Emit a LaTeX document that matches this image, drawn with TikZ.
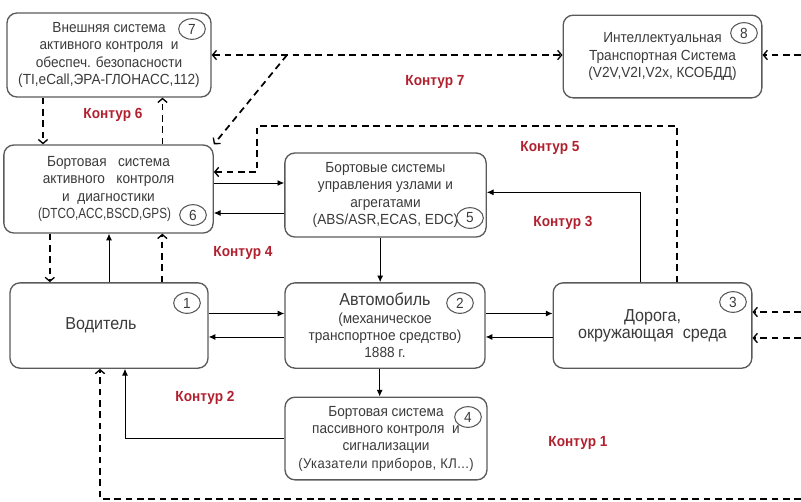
\documentclass[tikz,border=0pt]{standalone}
\usepackage{fontspec}
\setmainfont{Liberation Sans}[FakeStretch=0.93]
\newfontfamily\uzkiy{Liberation Sans}[FakeStretch=0.8]
\usetikzlibrary{arrows.meta,positioning,shapes.geometric}
\definecolor{konturred}{HTML}{B0202E}
\definecolor{ramka}{HTML}{5A5A5A}
\definecolor{tekst}{HTML}{3A3A3A}
\newcommand{\bolshe}{\fontsize{13}{15}\selectfont}
\newcommand{\melko}{\fontsize{10.5}{13}\selectfont\addfontfeature{LetterSpace=3}}
\tikzset{
  >={Straight Barb[length=3pt,width=7pt,line width=1pt]},
  blok/.style={draw=ramka, line width=1pt, rounded corners=7.5pt, align=center,
    text=tekst, inner sep=0pt, font=\fontsize{11}{13}\selectfont},
  nomer/.style={draw=ramka, ellipse, line width=0.8pt, minimum width=20pt,
    minimum height=15.5pt, inner sep=0pt, text=tekst, font=\fontsize{11}{13}\selectfont},
  kontur/.style={text=konturred, font=\bfseries\fontsize{11}{13}\selectfont},
  pryam/.style={line width=0.7pt, -{Latex[length=5pt,width=4.5pt]}},
  punktir/.style={line width=1.3pt, dash pattern=on 5pt off 3.5pt, ->},
}
\begin{document}
\begin{tikzpicture}[x=0.75pt,y=-0.75pt]
\useasboundingbox (0,0) rectangle (801,501);
\node[blok, minimum width=153pt, minimum height=63pt] (b7) at (109,55) {Внешняя система\\активного контроля\ \ и\\обеспеч. безопасности\\(TI,eCall,ЭРА-ГЛОНАСС,112)};
\node[blok, minimum width=149pt, minimum height=62pt] (b8) at (662.5,56.5) {Интеллектуальная\\Транспортная Система\\(V2V,V2I,V2x, КСОБДД)};
\node[blok, minimum width=157pt, minimum height=66pt] (b6) at (108.5,189) {Бортовая\ \ \ система\\активного\ \ \ контроля\\и\ \ диагностики\\{\uzkiy (DTCO,ACC,BSCD,GPS)}\hspace*{6pt}};
\node[blok, minimum width=151pt, minimum height=63pt] (b5) at (385.5,195) {Бортовые системы\\управления узлами и\\агрегатами\\(ABS/ASR,ECAS, EDC)};
\node[blok, minimum width=148.5pt, minimum height=64pt] (b1) at (109,325.5) {\bolshe Водитель\hspace*{12pt}};
\node[blok, minimum width=150pt, minimum height=64pt] (b2) at (385,325.5) {{\bolshe Автомобиль}\\(механическое\\транспортное средство)\\1888 г.};
\node[blok, minimum width=151.5pt, minimum height=62pt] (b4) at (386,438.5) {Бортовая система\\пассивного контроля\ \ и\\сигнализации\\{\melko (Указатели приборов, КЛ...)}};
\node[blok, minimum width=149pt, minimum height=64pt] (b3) at (652.5,325.5) {\bolshe Дорога,\\\bolshe окружающая\ \ среда};
\node[nomer] (n7) at (192,29) {7};
\node[nomer] (n8) at (744,33) {8};
\node[nomer] (n6) at (193,215) {6};
\node[nomer] (n5) at (470,218) {5};
\node[nomer] (n1) at (187,303) {1};
\node[nomer] (n2) at (460,303) {2};
\node[nomer] (n4) at (468,417) {4};
\node[nomer] (n3) at (733,302) {3};
\node[kontur] (t7) at (435,82) {Контур 7};
\node[kontur] (t6) at (113,115) {Контур 6};
\node[kontur] (t5) at (550,148) {Контур 5};
\node[kontur] (t4) at (243,253) {Контур 4};
\node[kontur] (t3) at (563,223) {Контур 3};
\node[kontur] (t2) at (205,398) {Контур 2};
\node[kontur] (t1) at (578,443) {Контур 1};
\coordinate (k5) at (257,126);
\coordinate (k7) at (287,55);
\coordinate (r8) at (801,55);
\coordinate (r3a) at (801,312);
\coordinate (r3b) at (801,338);
\coordinate (rn) at (801,499);
\draw[pryam] ([yshift=9pt]b1.east) -- ([yshift=9pt]b1.east -| b2.west);
\draw[pryam] ([yshift=-8.6pt]b2.west) -- ([yshift=-8.6pt]b2.west -| b1.east);
\draw[pryam] ([yshift=9pt]b2.east) -- ([yshift=9pt]b2.east -| b3.west);
\draw[pryam] ([yshift=-8.6pt]b3.west) -- ([yshift=-8.6pt]b3.west -| b2.east);
\draw[pryam] ([yshift=4.5pt]b6.east) -- ([yshift=4.5pt]b6.east -| b5.west);
\draw[pryam] ([yshift=-13.5pt]b5.west) -- ([yshift=-13.5pt]b5.west -| b6.east);
\draw[pryam] ([xshift=-4pt]b5.south) -- ([xshift=-4pt]b5.south |- b2.north);
\draw[pryam] ([xshift=-4pt]b2.south) -- ([xshift=-4pt]b2.south |- b4.north);
\draw[pryam] (b4.west) -| ([xshift=12pt]b1.south);
\draw[pryam] (b1.north) -- (b1.north |- b6.south);
\draw[pryam] ([xshift=-9.4pt]b3.north) |- ([yshift=2pt]b5.east);
\draw[punktir] ([xshift=-44pt]b6.south) -- ([xshift=-44pt]b6.south |- b1.north);
\draw[punktir] ([xshift=40pt]b1.north) -- ([xshift=40pt]b1.north |- b6.south);
\draw[punktir] ([xshift=-49.5pt]b7.south) -- ([xshift=-49.5pt]b7.south |- b6.north);
\draw[punktir] ([xshift=40.5pt]b6.north) -- ([xshift=40.5pt]b6.north |- b7.south);
\draw[punktir] ([xshift=18.4pt]b3.north) |- (k5) |- ([yshift=12.75pt]b6.east);
\draw[punktir, <->] (b7.east) -- (b7.east -| b8.west);
\draw[punktir] (k7) -- (b6.north east);
\draw[punktir] (r8) -- (r8 -| b8.east);
\draw[punktir] (r3a) -- (r3a -| b3.east);
\draw[punktir] (r3b) -- (r3b -| b3.east);
\draw[punktir] (rn) -| ([xshift=-6.75pt]b1.south);
\end{tikzpicture}
\end{document}
